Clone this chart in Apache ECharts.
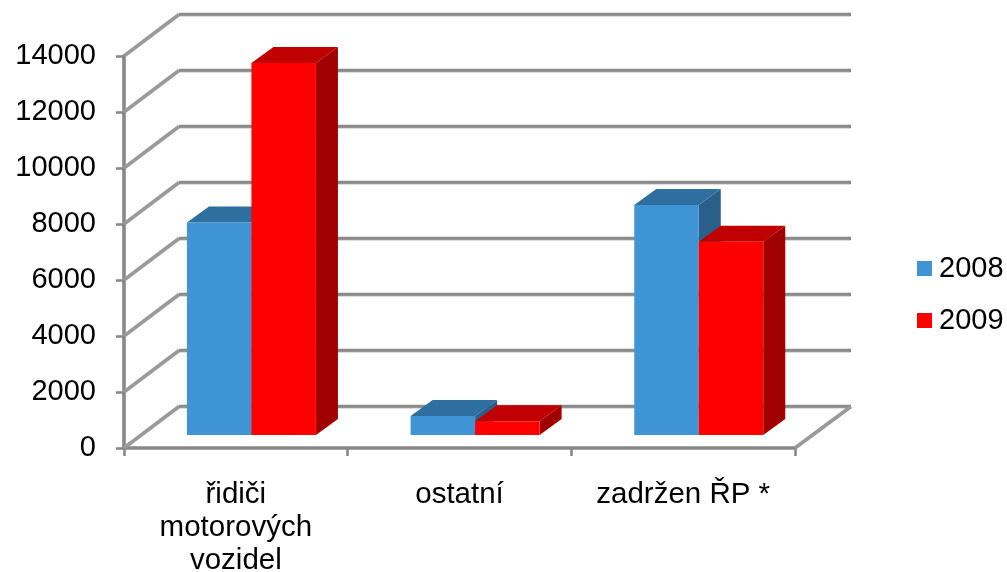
<!DOCTYPE html>
<html>
<head>
<meta charset="utf-8">
<style>html,body{margin:0;padding:0;background:#fff}#c{width:1007px;height:572px}</style>
<script src="https://cdn.jsdelivr.net/npm/echarts@6/dist/echarts.min.js"></script>
</head>
<body>
<div id="c"></div>
<script>
var categories = ['řidiči\nmotorových\nvozidel', 'ostatní', 'zadržen ŘP *'];
var values2008 = [7590, 680, 8210];
var values2009 = [13290, 490, 6900];
var yTicks = [0, 2000, 4000, 6000, 8000, 10000, 12000, 14000];

var FONT = '"Liberation Sans", Arial, sans-serif';
var AXIS_COLOR = '#888888';
var WALL_DX = 55, WALL_DX_RIGHT = 56, WALL_DY = 41.5;
var BAR_DX = 15.6, BAR_DY = 13, BAR_SIDE_DX = 22, BAR_SIDE_DY = 16, BAR_W = 64.5;

function wallItem(params, api) {
  var cs = params.coordSys;
  var t = api.value(1);
  var y = api.coord([0, t])[1];
  var l = cs.x, r = cs.x + cs.width;
  var children = [{
    type: 'polyline',
    shape: { points: [[l, y], [l + WALL_DX, y - WALL_DY]] },
    style: { stroke: '#9a9a9a', lineWidth: 3.8, fill: null }
  }, {
    type: 'polyline',
    shape: { points: [[l + WALL_DX, y - WALL_DY + 1], [r + WALL_DX_RIGHT, y - WALL_DY + 1]] },
    style: { stroke: '#bdbdbd', lineWidth: 2, fill: null }
  }, {
    type: 'polyline',
    shape: { points: [[l + WALL_DX, y - WALL_DY - 0.3], [r + WALL_DX_RIGHT, y - WALL_DY - 0.3]] },
    style: { stroke: '#8a8a8a', lineWidth: 3, fill: null }
  }];
  if (t === 0) {
    children.push({
      type: 'polyline',
      shape: { points: [[r, y], [r + WALL_DX_RIGHT, y - WALL_DY]] },
      style: { stroke: '#9a9a9a', lineWidth: 3.8, fill: null }
    });
  }
  return { type: 'group', children: children };
}

function barRenderer(sign, front, top, side) {
  return function (params, api) {
    var base = api.coord([api.value(0), 0]);
    var head = api.coord([api.value(0), api.value(1)]);
    var cx = base[0] + BAR_DX;
    var x0 = sign < 0 ? cx - BAR_W : cx;
    var x1 = x0 + BAR_W;
    var yb = base[1] - BAR_DY;
    var yt = head[1] - BAR_DY;
    return {
      type: 'group',
      children: [{
        type: 'polygon',
        shape: { points: [[x1, yb], [x1 + BAR_SIDE_DX, yb - BAR_SIDE_DY], [x1 + BAR_SIDE_DX, yt - BAR_SIDE_DY], [x1, yt]] },
        style: { fill: side }
      }, {
        type: 'polygon',
        shape: { points: [[x0, yt], [x1, yt], [x1 + BAR_SIDE_DX, yt - BAR_SIDE_DY], [x0 + BAR_SIDE_DX, yt - BAR_SIDE_DY]] },
        style: { fill: top }
      }, {
        type: 'rect',
        shape: { x: x0, y: yt, width: BAR_W, height: yb - yt },
        style: { fill: front }
      }]
    };
  };
}

function pairs(arr) { return arr.map(function (v, i) { return [i, v]; }); }

var chart = echarts.init(document.getElementById('c'), null, { renderer: 'canvas' });
chart.setOption({
  animation: false,
  backgroundColor: '#ffffff',
  textStyle: { fontFamily: FONT },
  grid: { left: 124, top: 56, width: 671, height: 392, outerBoundsMode: 'none', containLabel: false },
  legend: {
    data: ['2008', '2009'],
    orient: 'vertical',
    left: 917,
    top: 254,
    itemWidth: 15,
    itemHeight: 15,
    itemGap: 23,
    icon: 'rect',
    padding: 0,
    textStyle: { fontFamily: FONT, fontSize: 29, color: '#000', padding: [0, 0, 0, 2] }
  },
  xAxis: {
    type: 'category',
    data: categories,
    axisLine: { lineStyle: { color: AXIS_COLOR, width: 3.6 } },
    axisTick: { show: true, alignWithLabel: false, length: 8, lineStyle: { color: AXIS_COLOR, width: 2.6 } },
    axisLabel: { fontFamily: FONT, fontSize: 29.5, color: '#000', lineHeight: 33, margin: 30, interval: 0 }
  },
  yAxis: {
    type: 'value',
    min: 0,
    max: 14000,
    interval: 2000,
    axisLine: { show: true, lineStyle: { color: AXIS_COLOR, width: 3.6 } },
    axisTick: { show: true, length: 8, lineStyle: { color: AXIS_COLOR, width: 2.6 } },
    axisLabel: { fontFamily: FONT, fontSize: 29, color: '#000', margin: 28, formatter: function (v) { return String(v); } },
    splitLine: { show: false }
  },
  series: [{
    name: 'walls',
    type: 'custom',
    renderItem: wallItem,
    data: yTicks.map(function (t) { return [0, t]; }),
    encode: { x: 0, y: 1 },
    z: 1,
    silent: true,
    clip: false
  }, {
    name: '2008',
    type: 'custom',
    renderItem: barRenderer(-1, '#3f94d6', '#2f6f9f', '#2a5f8a'),
    data: pairs(values2008),
    encode: { x: 0, y: 1 },
    itemStyle: { color: '#3f94d6' },
    z: 2,
    clip: false
  }, {
    name: '2009',
    type: 'custom',
    renderItem: barRenderer(1, '#ff0000', '#c00000', '#a00000'),
    data: pairs(values2009),
    encode: { x: 0, y: 1 },
    itemStyle: { color: '#ff0000' },
    z: 3,
    clip: false
  }]
});
</script>
</body>
</html>
